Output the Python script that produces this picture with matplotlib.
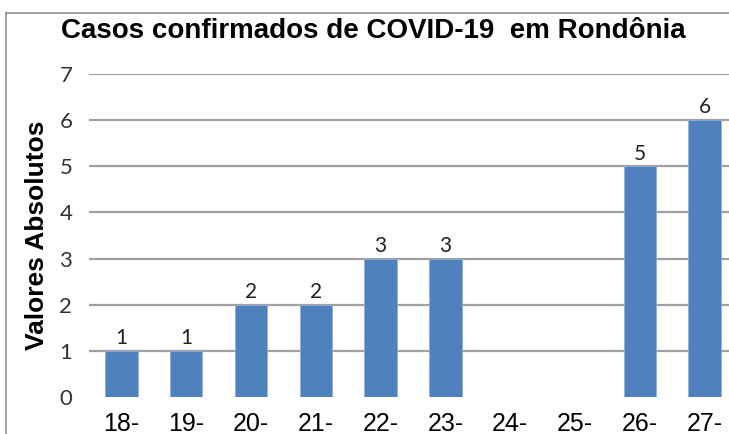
import matplotlib
matplotlib.use("Agg")
import matplotlib.pyplot as plt
from matplotlib.lines import Line2D

# Dados
dias = ["18-", "19-", "20-", "21-", "22-", "23-", "24-", "25-", "26-", "27-"]
casos = [1, 1, 2, 2, 3, 3, 0, 0, 5, 6]
y_ticks = [0, 1, 2, 3, 4, 5, 6, 7]

cor_barra = "#4F81BD"
cor_grade = "#A0A0A0"

fig = plt.figure(figsize=(7.29, 4.34), dpi=100)
ax = fig.add_axes([89 / 729, 37 / 434, 648 / 729, 323 / 434])

x = list(range(len(dias)))
barras = ax.bar(x, casos, width=0.5, color=cor_barra, edgecolor="#8FB0D8",
                linewidth=0.6, zorder=3)

# Rótulos de dados (sem rótulo para zero)
for xi, v in zip(x, casos):
    if v > 0:
        ax.text(xi, v + 0.06, str(v), ha="center", va="bottom",
                fontsize=15, family="Lato", color="#222222", zorder=4)

ax.set_xlim(-0.5, len(dias) - 0.5)
ax.set_ylim(0, 7)
ax.set_yticks(y_ticks)
ax.set_yticklabels([str(t) for t in y_ticks], family="Lato", fontsize=16,
                   color="#333333")
ax.set_xticks(x)
ax.set_xticklabels(dias, family="Liberation Sans", fontsize=18)
ax.tick_params(axis="both", length=0)
ax.tick_params(axis="y", pad=12)
ax.tick_params(axis="x", pad=11)

ax.yaxis.grid(True, color=cor_grade, linewidth=1.6, zorder=0)
ax.yaxis.get_gridlines()[0].set_visible(False)
for s in ax.spines.values():
    s.set_visible(False)

ax.set_ylabel("Valores Absolutos", family="Liberation Sans", fontweight="bold",
              fontsize=19)
ax.yaxis.set_label_coords(-0.062, 0.5)

fig.text(373 / 729, 1 - 31 / 434, "Casos confirmados de COVID-19  em Rondônia",
         ha="center", va="center", family="Liberation Sans",
         fontweight="bold", fontsize=20)

# Moldura (borda superior e esquerda)
fig.add_artist(Line2D([6 / 729, 1], [1 - 13 / 434, 1 - 13 / 434],
                      transform=fig.transFigure, color="#909090", linewidth=1.2))
fig.add_artist(Line2D([6 / 729, 6 / 729], [0, 1 - 13 / 434],
                      transform=fig.transFigure, color="#909090", linewidth=1.2))

fig.savefig("out.png", dpi=100)
